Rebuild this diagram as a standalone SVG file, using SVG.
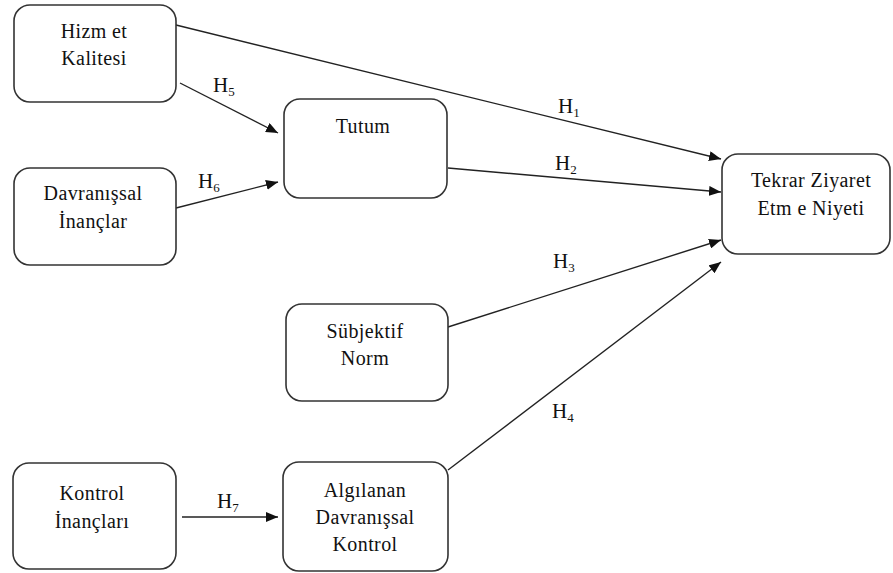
<svg xmlns="http://www.w3.org/2000/svg" width="893" height="573" viewBox="0 0 893 573">
<style>
.box{fill:#fff;stroke:#333;stroke-width:1.6}
.t{font-family:"Liberation Serif","Times New Roman",serif;font-size:20px;letter-spacing:0.4px;fill:#111;text-anchor:middle}
.h{font-family:"Liberation Serif","Times New Roman",serif;font-size:21px;fill:#111}
.s{font-size:13px}
.c{stroke:#222;stroke-width:1.4;fill:none;marker-end:url(#ah)}
</style>
<defs>
<marker id="ah" viewBox="0 0 12 10" refX="12" refY="5" markerWidth="12" markerHeight="10" markerUnits="userSpaceOnUse" orient="auto">
<path d="M0,0 L12,5 L0,10 Z" fill="#111"/>
</marker>
</defs>
<rect width="893" height="573" fill="#fff"/>
<g id="connectors">
<line class="c" x1="176" y1="25" x2="721" y2="159"/>
<line class="c" x1="180" y1="83" x2="278" y2="133"/>
<line class="c" x1="176" y1="208" x2="278" y2="182"/>
<line class="c" x1="448" y1="168" x2="721" y2="192"/>
<line class="c" x1="448" y1="327" x2="721" y2="240"/>
<line class="c" x1="448" y1="470" x2="721" y2="262"/>
<line class="c" x1="182" y1="517" x2="278" y2="517"/>
<text class="h" x="558" y="113">H<tspan class="s" dy="4">1</tspan></text>
<text class="h" x="555" y="170">H<tspan class="s" dy="4">2</tspan></text>
<text class="h" x="553" y="268">H<tspan class="s" dy="4">3</tspan></text>
<text class="h" x="552" y="418">H<tspan class="s" dy="4">4</tspan></text>
<text class="h" x="213" y="92">H<tspan class="s" dy="4">5</tspan></text>
<text class="h" x="198" y="188">H<tspan class="s" dy="4">6</tspan></text>
<text class="h" x="217" y="508">H<tspan class="s" dy="4">7</tspan></text>
</g>
<g id="hizmet">
<rect class="box" x="14" y="5" width="162" height="97" rx="16"/>
<text class="t" x="94" y="38">Hizm et</text>
<text class="t" x="94" y="65">Kalitesi</text>
</g>
<g id="davranissal">
<rect class="box" x="14" y="168" width="162" height="97" rx="16"/>
<text class="t" x="93" y="200">Davranışsal</text>
<text class="t" x="93" y="228">İnançlar</text>
</g>
<g id="tutum">
<rect class="box" x="284" y="99" width="163" height="99" rx="16"/>
<text class="t" x="363" y="133">Tutum</text>
</g>
<g id="tekrar">
<rect class="box" x="722" y="154" width="168" height="100" rx="16"/>
<text class="t" x="811" y="187">Tekrar Ziyaret</text>
<text class="t" x="811" y="215">Etm e Niyeti</text>
</g>
<g id="subjektif">
<rect class="box" x="286" y="304" width="162" height="97" rx="16"/>
<text class="t" x="365" y="338">Sübjektif</text>
<text class="t" x="365" y="365">Norm</text>
</g>
<g id="kontrol">
<rect class="box" x="13" y="463" width="163" height="106" rx="16"/>
<text class="t" x="92" y="500">Kontrol</text>
<text class="t" x="92" y="528">İnançları</text>
</g>
<g id="algilanan">
<rect class="box" x="283" y="462" width="165" height="109" rx="16"/>
<text class="t" x="365" y="497">Algılanan</text>
<text class="t" x="365" y="524">Davranışsal</text>
<text class="t" x="365" y="551">Kontrol</text>
</g>
</svg>
